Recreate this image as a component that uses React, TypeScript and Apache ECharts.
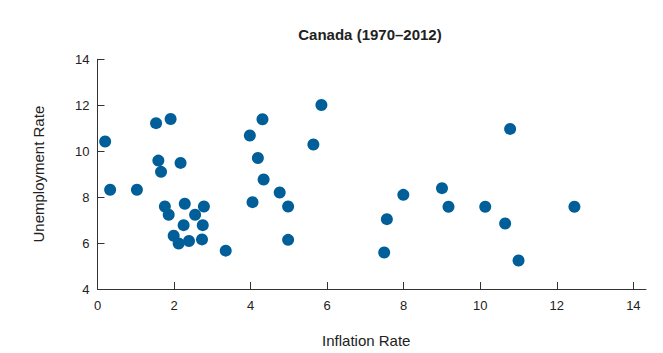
import React, { useEffect, useRef } from "react";
import * as echarts from "echarts";

const inflation = [
  0.2, 0.33, 1.03, 1.53, 1.91, 1.59, 1.66, 2.17, 1.76, 1.86,
  2.28, 2.78, 2.55, 2.25, 2.75, 1.99, 2.12, 2.39, 2.73, 3.35,
  3.98, 4.31, 4.19, 4.34, 4.05, 4.76, 4.98, 4.98, 5.64, 5.85,
  10.78, 7.99, 9.0, 9.17, 10.13, 12.46, 7.56, 10.65, 7.49, 11.0,
];
const unemployment = [
  10.42, 8.32, 8.32, 11.22, 11.4, 9.59, 9.1, 9.49, 7.59, 7.23,
  7.71, 7.59, 7.23, 6.78, 6.78, 6.32, 5.98, 6.09, 6.16, 5.67,
  10.68, 11.39, 9.7, 8.77, 7.78, 8.2, 7.59, 6.14, 10.29, 12.01,
  10.97, 8.1, 8.39, 7.58, 7.58, 7.58, 7.04, 6.85, 5.59, 5.24,
];
const xTicks = [0, 2, 4, 6, 8, 10, 12, 14];
const yTicks = [4, 6, 8, 10, 12, 14];

export default function App() {
  const ref = useRef<HTMLDivElement>(null);
  useEffect(() => {
    if (!ref.current) return;
    const chart = echarts.init(ref.current, undefined, { renderer: "svg" });
    const font = "Liberation Sans, Arial, sans-serif";
    chart.setOption({
      animation: false,
      title: {
        text: "Canada (1970–2012)",
        left: 365,
        textAlign: "center",
        top: 22,
        textStyle: { fontFamily: font, fontSize: 15, fontWeight: "bold", color: "#222" },
      },
      grid: { left: 97.5, right: 17, top: 59.3, bottom: 63.7 },
      xAxis: {
        type: "value",
        min: 0,
        max: 14.33,
        interval: 2,
        name: "Inflation Rate",
        nameLocation: "middle",
        nameGap: 44,
        nameTextStyle: { fontFamily: font, fontSize: 15, color: "#222", padding: [0, 11, 0, 0] },
        splitLine: { show: false },
        axisLine: { lineStyle: { color: "#333", width: 1 } },
        axisTick: { inside: true, length: 7, lineStyle: { color: "#333" }, customValues: xTicks },
        axisLabel: { fontFamily: font, fontSize: 13, color: "#222", margin: 10, customValues: xTicks },
      },
      yAxis: {
        type: "value",
        min: 4,
        max: 14,
        interval: 2,
        name: "Unemployment Rate",
        nameLocation: "middle",
        nameGap: 52,
        nameTextStyle: { fontFamily: font, fontSize: 15, color: "#222" },
        splitLine: { show: false },
        axisLine: { show: true, lineStyle: { color: "#333", width: 1 } },
        axisTick: { show: true, inside: true, length: 7, lineStyle: { color: "#333" }, customValues: yTicks },
        axisLabel: { fontFamily: font, fontSize: 13, color: "#222", margin: 8, customValues: yTicks },
      },
      series: [
        {
          type: "scatter",
          symbolSize: 12,
          itemStyle: { color: "#005f98", opacity: 1 },
          data: inflation.map((x, i) => [x, unemployment[i]]),
        },
      ],
    });
    return () => chart.dispose();
  }, []);
  return <div ref={ref} style={{ width: 663, height: 353, position: "absolute", left: 0, top: 0 }} />;
}
